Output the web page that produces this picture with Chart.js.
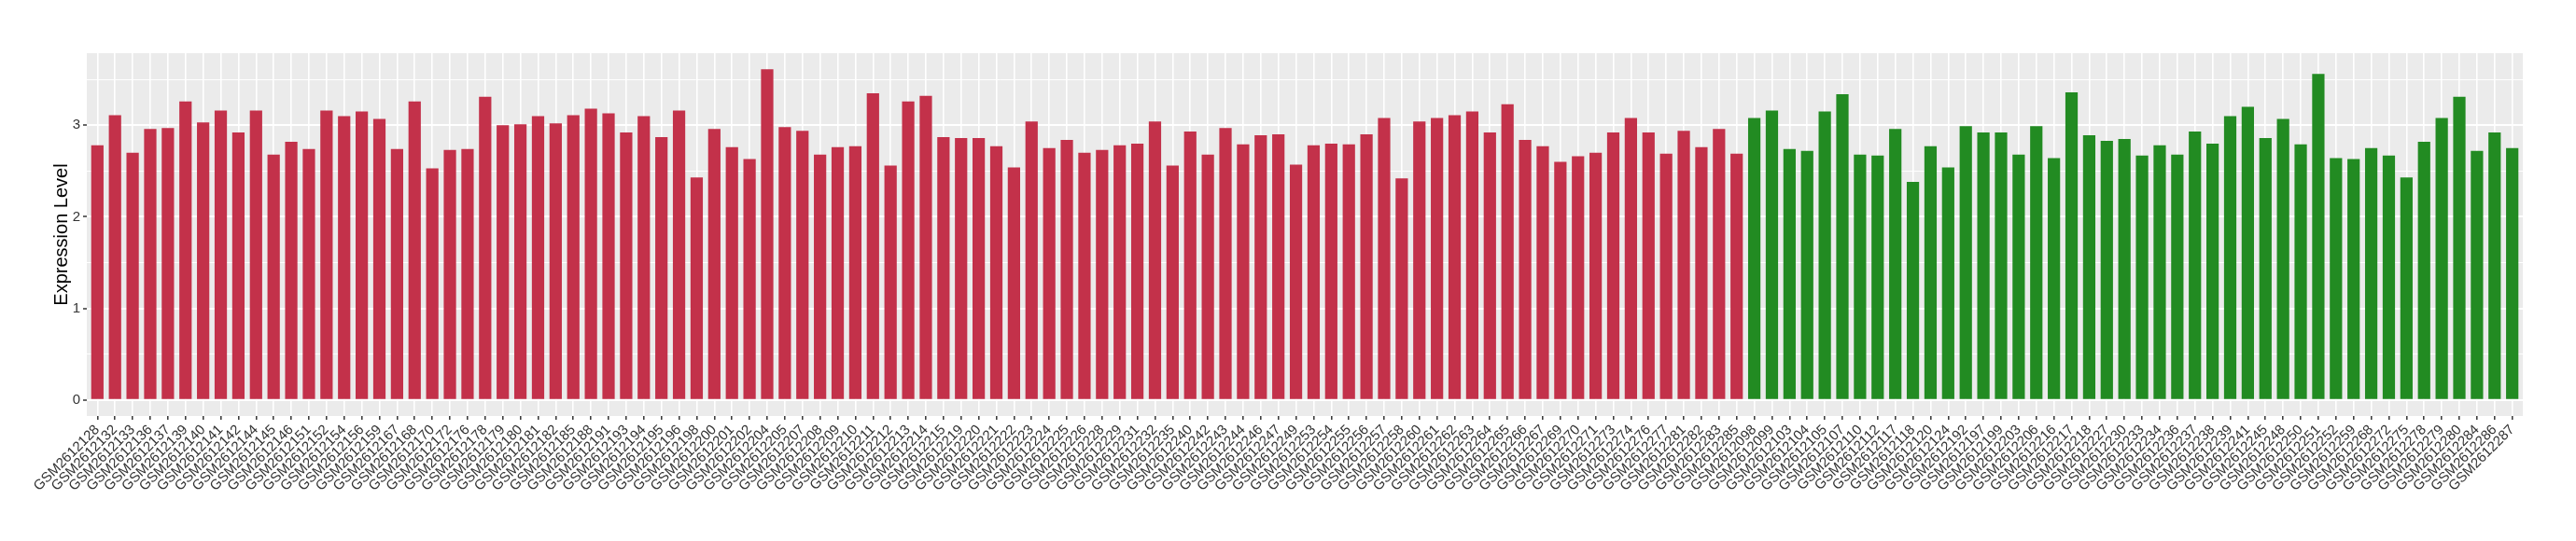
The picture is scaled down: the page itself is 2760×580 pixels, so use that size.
<!DOCTYPE html>
<html>
<head>
<meta charset="utf-8">
<script src="https://cdn.jsdelivr.net/npm/chart.js@4/dist/chart.umd.min.js"></script>
<style>
  body { margin: 0; background: #ffffff; }
  #exprChart { display: block; }
</style>
</head>
<body>
<canvas id="exprChart" width="2760" height="580"></canvas>
<script>
// Sample names and expression values, red group first, then green group
const redSamples = [
  'GSM2612128','GSM2612132','GSM2612133','GSM2612136','GSM2612137','GSM2612139','GSM2612140','GSM2612141','GSM2612142',
  'GSM2612144','GSM2612145','GSM2612146','GSM2612151','GSM2612152','GSM2612154','GSM2612156','GSM2612159','GSM2612167','GSM2612168','GSM2612170','GSM2612172',
  'GSM2612176','GSM2612178','GSM2612179','GSM2612180','GSM2612181','GSM2612182','GSM2612185','GSM2612188','GSM2612191','GSM2612193','GSM2612194','GSM2612195','GSM2612196',
  'GSM2612198','GSM2612200','GSM2612201','GSM2612202','GSM2612204','GSM2612205','GSM2612207','GSM2612208','GSM2612209','GSM2612210','GSM2612211','GSM2612212','GSM2612213',
  'GSM2612214','GSM2612215','GSM2612219','GSM2612220','GSM2612221','GSM2612222','GSM2612223','GSM2612224','GSM2612225','GSM2612226','GSM2612228','GSM2612229','GSM2612231',
  'GSM2612232','GSM2612235','GSM2612240','GSM2612242','GSM2612243','GSM2612244','GSM2612246','GSM2612247','GSM2612249','GSM2612253','GSM2612254','GSM2612255',
  'GSM2612256','GSM2612257','GSM2612258','GSM2612260','GSM2612261','GSM2612262','GSM2612263','GSM2612264','GSM2612265','GSM2612266','GSM2612267','GSM2612269','GSM2612270',
  'GSM2612271','GSM2612273','GSM2612274','GSM2612276','GSM2612277','GSM2612281','GSM2612282','GSM2612283','GSM2612285'
];
const redValues = [
  2.78, 3.11, 2.70, 2.96, 2.97, 3.26, 3.03, 3.16, 2.92,
  3.16, 2.68, 2.82, 2.74, 3.16, 3.10, 3.15, 3.07, 2.74, 3.26, 2.53, 2.73,
  2.74, 3.31, 3.00, 3.01, 3.10, 3.02, 3.11, 3.18, 3.13, 2.92, 3.10, 2.87, 3.16,
  2.43, 2.96, 2.76, 2.63, 3.61, 2.98, 2.94, 2.68, 2.76, 2.77, 3.35, 2.56, 3.26,
  3.32, 2.87, 2.86, 2.86, 2.77, 2.54, 3.04, 2.75, 2.84, 2.70, 2.73, 2.78, 2.80,
  3.04, 2.56, 2.93, 2.68, 2.97, 2.79, 2.89, 2.90, 2.57, 2.78, 2.80, 2.79,
  2.90, 3.08, 2.42, 3.04, 3.08, 3.11, 3.15, 2.92, 3.23, 2.84, 2.77, 2.60, 2.66,
  2.70, 2.92, 3.08, 2.92, 2.69, 2.94, 2.76, 2.96, 2.69
];
const greenSamples = [
  'GSM2612098','GSM2612099','GSM2612103','GSM2612104','GSM2612105','GSM2612107','GSM2612110','GSM2612112','GSM2612117','GSM2612118',
  'GSM2612120','GSM2612124','GSM2612192','GSM2612197','GSM2612199','GSM2612203','GSM2612206',
  'GSM2612216','GSM2612217','GSM2612218','GSM2612227','GSM2612230','GSM2612233','GSM2612234','GSM2612236','GSM2612237','GSM2612238','GSM2612239','GSM2612241',
  'GSM2612245','GSM2612248','GSM2612250','GSM2612251','GSM2612252','GSM2612259','GSM2612268','GSM2612272','GSM2612275','GSM2612278','GSM2612279','GSM2612280',
  'GSM2612284','GSM2612286','GSM2612287'
];
const greenValues = [
  3.08, 3.16, 2.74, 2.72, 3.15, 3.34, 2.68, 2.67, 2.96, 2.38,
  2.77, 2.54, 2.99, 2.92, 2.92, 2.68, 2.99,
  2.64, 3.36, 2.89, 2.83, 2.85, 2.67, 2.78, 2.68, 2.93, 2.80, 3.10, 3.20,
  2.86, 3.07, 2.79, 3.56, 2.64, 2.63, 2.75, 2.67, 2.43, 2.82, 3.08, 3.31,
  2.72, 2.92, 2.75
];
const yMajorTicks = [0, 1, 2, 3];
const yMinorTicks = [0.5, 1.5, 2.5, 3.5];

document.addEventListener('DOMContentLoaded', function() {
    setupChart();
});

function setupChart() {
    const ctx = document.getElementById('exprChart').getContext('2d');
    const allSamples = redSamples.concat(greenSamples);
    const offset = redSamples.length;

    // gray ggplot-like panel behind the grid
    const panelBackground = {
        id: 'panelBackground',
        beforeDraw(chart) {
            const a = chart.chartArea;
            chart.ctx.save();
            chart.ctx.fillStyle = '#EBEBEB';
            chart.ctx.fillRect(a.left, a.top, a.right - a.left, a.bottom - a.top);
            chart.ctx.restore();
        }
    };

    new Chart(ctx, {
        type: 'bar',
        data: {
            datasets: [{
                data: redValues.map((v, i) => ({ x: i, y: v })),
                backgroundColor: '#C3314A',
                barPercentage: 0.7,
                categoryPercentage: 1.0
            }, {
                data: greenValues.map((v, i) => ({ x: offset + i, y: v })),
                backgroundColor: '#228B22',
                barPercentage: 0.7,
                categoryPercentage: 1.0
            }]
        },
        options: {
            responsive: false,
            animation: false,
            grouped: false,
            layout: { padding: { left: 0, top: 57, right: 57, bottom: 0 } },
            plugins: {
                legend: { display: false },
                tooltip: { enabled: false }
            },
            scales: {
                x: {
                    type: 'linear',
                    min: -0.6,
                    max: allSamples.length - 0.4,
                    offset: false,
                    afterBuildTicks: function(scale) {
                        scale.ticks = allSamples.map((_, i) => ({ value: i }));
                    },
                    afterFit: function(scale) {
                        scale.height = 134;
                    },
                    border: { display: false },
                    grid: {
                        offset: false,
                        color: '#FFFFFF',
                        lineWidth: 1.6,
                        tickColor: '#333333',
                        tickLength: 4,
                        tickWidth: 1.5
                    },
                    ticks: {
                        autoSkip: false,
                        minRotation: 45,
                        maxRotation: 45,
                        padding: 2,
                        color: '#333333',
                        font: { family: '"Liberation Sans", Arial, sans-serif', size: 15 },
                        callback: function(value) {
                            return allSamples[value];
                        }
                    }
                },
                y: {
                    min: -0.176,
                    max: 3.787,
                    afterBuildTicks: function(scale) {
                        scale.ticks = yMajorTicks.concat(yMinorTicks)
                            .sort((a, b) => a - b)
                            .map(v => ({ value: v }));
                    },
                    afterFit: function(scale) {
                        scale.width = 93;
                    },
                    border: { display: false },
                    grid: {
                        color: '#FFFFFF',
                        lineWidth: c => yMajorTicks.includes(c.tick.value) ? 2 : 1,
                        tickColor: c => yMajorTicks.includes(c.tick.value) ? '#333333' : 'rgba(0,0,0,0)',
                        tickLength: 4,
                        tickWidth: 1.5
                    },
                    ticks: {
                        padding: 3,
                        color: '#333333',
                        font: { family: '"Liberation Sans", Arial, sans-serif', size: 15 },
                        callback: function(value) {
                            return yMajorTicks.includes(value) ? String(value) : '';
                        }
                    },
                    title: {
                        display: true,
                        text: 'Expression Level',
                        color: '#000000',
                        padding: { top: 54, bottom: 0 },
                        font: { family: '"Liberation Sans", Arial, sans-serif', size: 20 }
                    }
                }
            }
        },
        plugins: [panelBackground]
    });
}
</script>
</body>
</html>
